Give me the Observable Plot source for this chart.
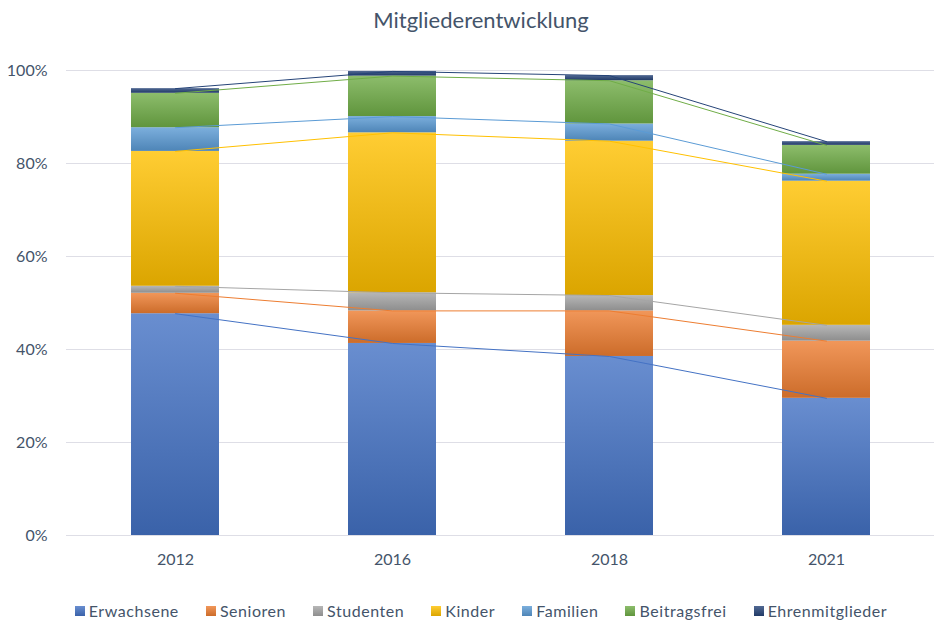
<!DOCTYPE html>
<html>
<head>
<meta charset="utf-8">
<script src="https://cdn.jsdelivr.net/npm/d3@7"></script>
<script src="https://cdn.jsdelivr.net/npm/@observablehq/plot@0.6"></script>
<style>
  html, body { margin: 0; padding: 0; background: #fff; }
  body { width: 934px; height: 621px; overflow: hidden; font-family: Lato, "Open Sans", sans-serif; color: #44546A; }
  #title { height: 40px; line-height: 40px; font-size: 22px; text-align: center; padding-left: 28px; box-sizing: border-box; }
  #legend { display: flex; justify-content: center; align-items: center; gap: 27px; font-size: 16px; line-height: 18px; letter-spacing: 0.55px; padding-left: 28px; padding-top: 5px; box-sizing: border-box; height: 26px; }
  #legend .item { display: flex; align-items: center; gap: 4px; }
  #legend .sw { width: 10px; height: 10px; display: inline-block; }
  svg { display: block; }
</style>
</head>
<body>
<div id="title">Mitgliederentwicklung</div>
<div id="chart"></div>
<div id="legend"></div>
<script>
const years = ["2012", "2016", "2018", "2021"];
const seriesNames = ["Erwachsene", "Senioren", "Studenten", "Kinder", "Familien", "Beitragsfrei", "Ehrenmitglieder"];
const seriesColors = ["#4472C4", "#ED7D31", "#A5A5A5", "#FFC000", "#5B9BD5", "#70AD47", "#264478"];

// percent shares per year
const erwachsene = [47.7, 41.3, 38.5, 29.5];
const senioren = [4.4, 7.0, 9.8, 12.3];
const studenten = [1.5, 3.9, 3.3, 3.4];
const kinder = [29.0, 34.4, 33.2, 31.0];
const familien = [5.1, 3.5, 3.7, 1.5];
const beitragsfrei = [7.4, 8.7, 9.3, 6.2];
const ehrenmitglieder = [1.0, 1.0, 1.1, 0.8];
const yTicks = [0, 20, 40, 60, 80, 100];

const seriesValues = [erwachsene, senioren, studenten, kinder, familien, beitragsfrei, ehrenmitglieder];
const data = years.flatMap((year, i) =>
  seriesNames.map((s, j) => ({year, series: s, value: seriesValues[j][i]}))
);
const idx = s => seriesNames.indexOf(s);
const light = c => d3.interpolateRgb(c, "#ffffff")(0.2);
const dark = c => d3.interpolateRgb(c, "#000000")(0.14);

const plot = Plot.plot({
  width: 934,
  height: 555,
  marginLeft: 66,
  marginRight: 0,
  marginTop: 30,
  marginBottom: 60,
  style: {fontFamily: "Lato, 'Open Sans', sans-serif", fontSize: "16px", color: "#44546A", background: "white"},
  x: {domain: years, paddingInner: 0.595, paddingOuter: 0.2975, label: null, tickSize: 0, tickPadding: 18},
  y: {domain: [0, 100], ticks: yTicks, tickFormat: d => d + "%", label: null, tickSize: 0, tickPadding: 19},
  color: {type: "identity"},
  marks: [
    Plot.ruleY(yTicks, {stroke: "#dedee6", strokeWidth: 1}),
    Plot.barY(data, Plot.stackY({x: "year", y: "value", z: "series", fill: d => `url(#grad${idx(d.series)})`})),
    Plot.lineY(data, Plot.stackY2({x: "year", y: "value", z: "series", stroke: d => seriesColors[idx(d.series)], strokeWidth: 1})),
  ]
});

// gradient defs (lighter top, darker bottom)
const ns = "http://www.w3.org/2000/svg";
const defs = document.createElementNS(ns, "defs");
seriesColors.forEach((c, i) => {
  const g = document.createElementNS(ns, "linearGradient");
  g.setAttribute("id", "grad" + i);
  g.setAttribute("x1", "0"); g.setAttribute("y1", "0");
  g.setAttribute("x2", "0"); g.setAttribute("y2", "1");
  [[0, light(c)], [1, dark(c)]].forEach(([o, col]) => {
    const st = document.createElementNS(ns, "stop");
    st.setAttribute("offset", o);
    st.setAttribute("stop-color", col);
    g.appendChild(st);
  });
  defs.appendChild(g);
});
plot.insertBefore(defs, plot.firstChild);
document.getElementById("chart").appendChild(plot);

// legend
const legend = document.getElementById("legend");
seriesNames.forEach((s, i) => {
  const item = document.createElement("div");
  item.className = "item";
  const sw = document.createElement("span");
  sw.className = "sw";
  sw.style.background = `linear-gradient(${light(seriesColors[i])}, ${dark(seriesColors[i])})`;
  const t = document.createElement("span");
  t.textContent = s;
  item.appendChild(sw); item.appendChild(t);
  legend.appendChild(item);
});
</script>
</body>
</html>
